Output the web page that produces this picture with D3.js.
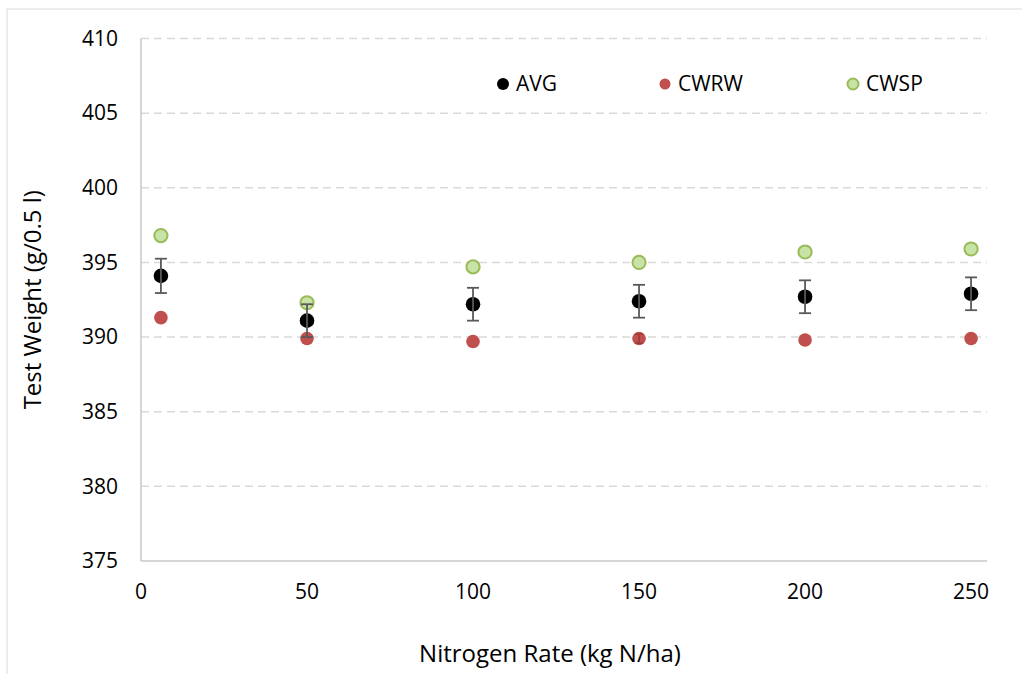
<!DOCTYPE html>
<html>
<head>
<meta charset="utf-8">
<script src="https://cdn.jsdelivr.net/npm/d3@7"></script>
<style>
  html, body { margin: 0; padding: 0; background: #fff; }
  svg { display: block; }
</style>
</head>
<body>
<div id="chart"></div>
<script>
// nitrogen rates (kg N/ha) on the x axis
const nRates = [6, 50, 100, 150, 200, 250];
// test weight (g/0.5 l)
const avgValues = [394.1, 391.1, 392.2, 392.4, 392.7, 392.9];
const avgErrors = [1.15, 1.1, 1.1, 1.1, 1.1, 1.1];
const cwrwValues = [391.3, 389.9, 389.7, 389.9, 389.8, 389.9];
const cwrwErrors = [0, 0, 0, 0.3, 0, 0];
const cwspValues = [396.8, 392.3, 394.7, 395.0, 395.7, 395.9];

const xTicks = [0, 50, 100, 150, 200, 250];
const yTicks = [375, 380, 385, 390, 395, 400, 405, 410];
const seriesNames = ['AVG', 'CWRW', 'CWSP'];

const width = 1022;
const height = 674;
const margin = { top: 38.5, right: 35, bottom: 113, left: 141 };
const font = "'Open Sans', 'Liberation Sans', sans-serif";

const styles = {
  AVG: { fill: '#000000', stroke: 'none', r: 7.3 },
  CWRW: { fill: '#C0504D', stroke: 'none', r: 6.8 },
  CWSP: { fill: '#C7E3A6', stroke: '#9BBB59', r: 6.6 }
};

const xScale = d3.scaleLinear()
  .domain([0, 254.8])
  .range([margin.left, width - margin.right]);

const yScale = d3.scaleLinear()
  .domain([375, 410])
  .range([height - margin.bottom, margin.top]);

const svg = d3.select('#chart').append('svg')
  .attr('width', width)
  .attr('height', height);

// chart area border (only left/top fall inside the picture)
svg.append('rect')
  .attr('x', 7)
  .attr('y', 9)
  .attr('width', width + 20)
  .attr('height', height + 20)
  .attr('fill', '#fff')
  .attr('stroke', '#D9D9D9')
  .attr('stroke-width', 1);

// horizontal dashed grid
svg.append('g')
  .selectAll('line')
  .data(yTicks.filter(d => d !== 375))
  .join('line')
  .attr('x1', xScale(0))
  .attr('x2', xScale.range()[1])
  .attr('y1', d => yScale(d))
  .attr('y2', d => yScale(d))
  .attr('stroke', '#D9D9D9')
  .attr('stroke-width', 1.5)
  .attr('stroke-dasharray', '8,5');

// axes lines
svg.append('line')
  .attr('x1', xScale(0))
  .attr('x2', xScale(0))
  .attr('y1', yScale(410))
  .attr('y2', yScale(375))
  .attr('stroke', '#C8C8C8')
  .attr('stroke-width', 1.5);

svg.append('line')
  .attr('x1', xScale(0))
  .attr('x2', xScale.range()[1])
  .attr('y1', yScale(375))
  .attr('y2', yScale(375))
  .attr('stroke', '#C8C8C8')
  .attr('stroke-width', 1.5);

// tick labels
svg.append('g')
  .style('font-family', font)
  .style('font-size', '21px')
  .attr('fill', '#000')
  .attr('text-anchor', 'end')
  .selectAll('text')
  .data(yTicks)
  .join('text')
  .attr('x', 118)
  .attr('y', d => yScale(d))
  .attr('dy', '0.35em')
  .text(d => d);

svg.append('g')
  .style('font-family', font)
  .style('font-size', '21px')
  .attr('fill', '#000')
  .attr('text-anchor', 'middle')
  .selectAll('text')
  .data(xTicks)
  .join('text')
  .attr('x', d => xScale(d))
  .attr('y', 592)
  .attr('dy', '0.35em')
  .text(d => d);

// axis titles
svg.append('text')
  .attr('x', 550)
  .attr('y', 662)
  .attr('text-anchor', 'middle')
  .style('font-family', font)
  .style('font-size', '24px')
  .text('Nitrogen Rate (kg N/ha)');

svg.append('text')
  .attr('transform', `translate(41, ${(yScale(410) + yScale(375)) / 2}) rotate(-90)`)
  .attr('text-anchor', 'middle')
  .style('font-family', font)
  .style('font-size', '24px')
  .text('Test Weight (g/0.5 l)');

// markers
const series = [
  { name: 'AVG', values: avgValues },
  { name: 'CWRW', values: cwrwValues },
  { name: 'CWSP', values: cwspValues }
];

series.forEach(s => {
  const st = styles[s.name];
  svg.append('g')
    .selectAll('circle')
    .data(s.values)
    .join('circle')
    .attr('cx', (_, i) => xScale(nRates[i]))
    .attr('cy', d => yScale(d))
    .attr('r', st.r)
    .attr('fill', st.fill)
    .attr('stroke', st.stroke)
    .attr('stroke-width', 2);
});

// error bars drawn on top
function drawErrorBars(values, errors, color, cap) {
  const g = svg.append('g')
    .attr('stroke', color)
    .attr('stroke-width', 1.8);
  values.forEach((v, i) => {
    if (!errors[i]) return;
    const x = xScale(nRates[i]);
    const y1 = yScale(v + errors[i]);
    const y2 = yScale(v - errors[i]);
    g.append('line').attr('x1', x).attr('x2', x).attr('y1', y1).attr('y2', y2);
    g.append('line').attr('x1', x - cap).attr('x2', x + cap).attr('y1', y1).attr('y2', y1);
    g.append('line').attr('x1', x - cap).attr('x2', x + cap).attr('y1', y2).attr('y2', y2);
  });
}

drawErrorBars(avgValues, avgErrors, '#595959', 6);
drawErrorBars(cwrwValues, cwrwErrors, '#A33A37', 3.5);

// legend
const legendX = [503, 665, 853];
const legend = svg.append('g')
  .style('font-family', font)
  .style('font-size', '21px');

seriesNames.forEach((name, i) => {
  const st = styles[name];
  legend.append('circle')
    .attr('cx', legendX[i])
    .attr('cy', 84)
    .attr('r', name === 'AVG' ? 6 : 5.5)
    .attr('fill', st.fill)
    .attr('stroke', st.stroke)
    .attr('stroke-width', 2);
  legend.append('text')
    .attr('x', legendX[i] + 13)
    .attr('y', 84)
    .attr('dy', '0.35em')
    .text(name);
});
</script>
</body>
</html>
